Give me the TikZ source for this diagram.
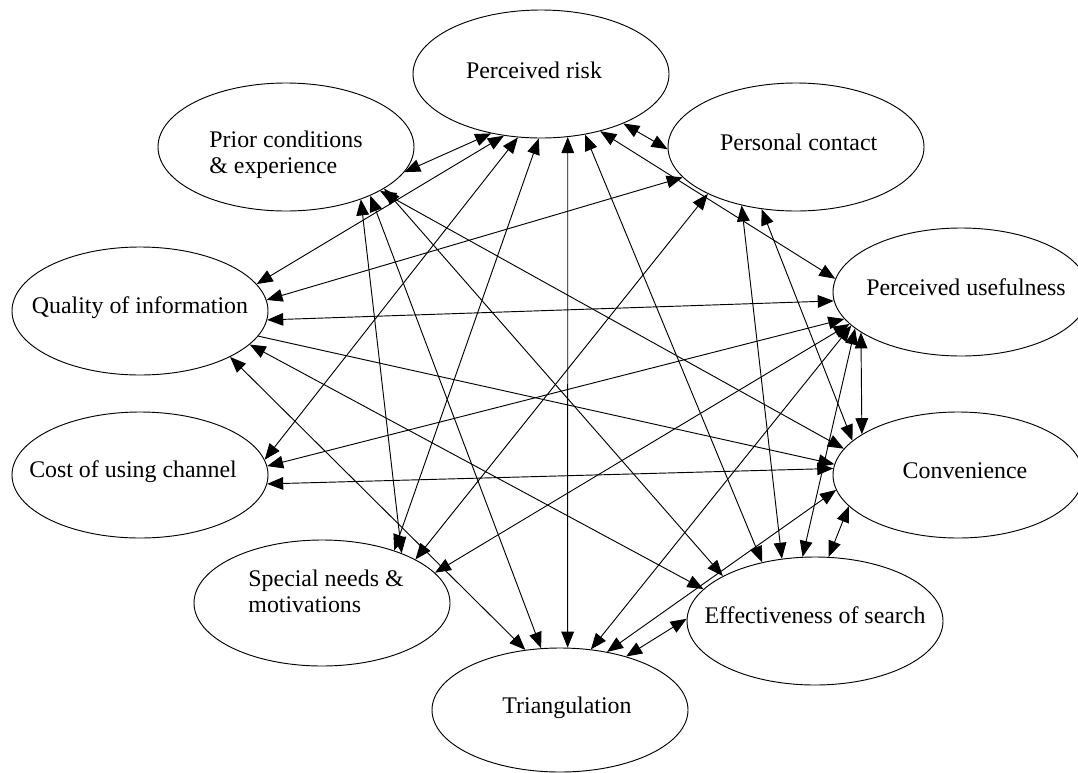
\documentclass[tikz,border=0pt]{standalone}
\usepackage{fontspec}
\setmainfont{Liberation Serif}
\usetikzlibrary{shapes.geometric,arrows.meta}
\begin{document}
\begin{tikzpicture}[x=0.75pt,y=-0.75pt,
    oval/.style={ellipse, draw, line width=0.7pt, inner sep=0pt, minimum width=192pt, minimum height=96pt},
    every label/.style={font=\fontsize{17.9}{19.5}\selectfont, align=left, inner sep=0pt},
    twoway/.style={line width=0.7pt, {Triangle[length=12pt,width=9.5pt]}-{Triangle[length=12pt,width=9.5pt]}},
    oneway/.style={line width=0.7pt, -{Triangle[length=12pt,width=9.5pt]}}]
\useasboundingbox (0,0) rectangle (1078,772);
% factors
\node[oval, label={[shift={(-5.25pt,3pt)}]center:Perceived risk}] (pr) at (541,74) {};
\node[oval, label={[shift={(0pt,-6pt)}]center:Prior conditions\\\& experience}] (prc) at (286,147) {};
\node[oval, label={[shift={(2pt,3.75pt)}]center:Personal contact}] (pco) at (796,147) {};
\node[oval, label={[shift={(0pt,2.25pt)}]center:Quality of information}] (qi) at (140,311) {};
\node[oval, label={[shift={(3.75pt,3.75pt)}]center:Perceived usefulness}] (pu) at (961,292) {};
\node[oval, minimum height=94.5pt, label={[shift={(-5.25pt,2.25pt)}]center:Cost of using channel}] (cuc) at (140,475) {};
\node[oval, minimum width=187.5pt, minimum height=94.5pt, label={[shift={(5.25pt,3pt)}]center:Convenience}] (conv) at (958,475) {};
\node[oval, minimum height=94.5pt, label={[shift={(3pt,8.6pt)}]center:Special needs \&\\motivations}] (sn) at (322,603) {};
\node[oval, label={[shift={(0pt,4.5pt)}]center:Effectiveness of search}] (es) at (815,621) {};
\node[oval, minimum height=93pt, label={[shift={(5.25pt,1.5pt)}]center:Triangulation}] (tri) at (560,710) {};
% links
\draw[twoway] (pr.-130) -- (prc.-12);
\draw[twoway] (pr.-121) -- (qi.13);
\draw[twoway] (pr.-110) -- (cuc.7);
\draw[twoway] (pr.-92) -- (sn.36);
\draw[twoway] (pr.-67.5) -- (tri.83.5);
\draw[twoway] (pr.-54) -- (es.132);
\draw[twoway] (pr.-44) -- (pu.174);
\draw[twoway] (pr.-31) -- (pco.181);
\draw[twoway] (prc.-35) -- (sn.32);
\draw[twoway] (prc.-30) -- (tri.107);
\draw[twoway] (prc.-23) -- (es.154);
\draw[twoway] (prc.-25) -- (conv.167);
\draw[twoway] (pco.195) -- (qi.5);
\draw[twoway] (pco.208) -- (sn.25);
\draw[twoway] (pco.227) -- (es.118);
\draw[twoway] (pco.241) -- (conv.162);
\draw[twoway] (qi.-4) -- (pu.184);
\draw[oneway] (qi.-12) -- (conv.175);
\draw[twoway] (qi.-17) -- (es.164);
\draw[twoway] (qi.-27) -- (tri.120);
\draw[twoway] (pu.193.5) -- (cuc.4);
\draw[twoway] (pu.196) -- (sn.15);
\draw[twoway] (pu.197.5) -- (tri.63);
\draw[twoway] (pu.199) -- (es.101);
\draw[twoway] (pu.202.5) -- (conv.157.2);
\draw[twoway] (cuc.-4) -- (conv.177);
\draw[twoway] (conv.187) -- (tri.51.5);
\draw[twoway] (conv.196) -- (es.78.5);
\draw[twoway] (es.179) -- (tri.39);
\end{tikzpicture}
\end{document}
